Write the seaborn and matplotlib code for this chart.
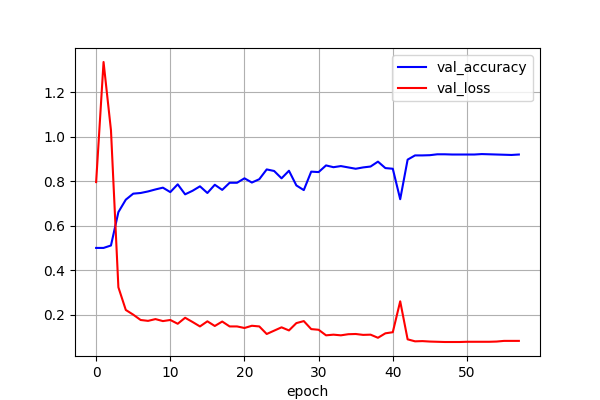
import seaborn as sns
import matplotlib.pyplot as plt
import pandas as pd

# validation history
epochs = list(range(58))
val_accuracy = [0.500, 0.500, 0.511, 0.661, 0.717, 0.744, 0.747, 0.754, 0.763, 0.771,
                0.751, 0.786, 0.741, 0.757, 0.777, 0.747, 0.784, 0.761, 0.793, 0.793,
                0.813, 0.794, 0.809, 0.853, 0.846, 0.813, 0.847, 0.781, 0.760, 0.843,
                0.841, 0.871, 0.863, 0.868, 0.862, 0.856, 0.862, 0.866, 0.888, 0.859,
                0.856, 0.719, 0.897, 0.916, 0.916, 0.917, 0.921, 0.921, 0.920, 0.920,
                0.920, 0.920, 0.922, 0.921, 0.920, 0.919, 0.918, 0.920]
val_loss = [0.796, 1.336, 1.029, 0.323, 0.221, 0.200, 0.176, 0.172, 0.180, 0.171,
            0.176, 0.159, 0.186, 0.167, 0.147, 0.170, 0.149, 0.169, 0.147, 0.147,
            0.140, 0.150, 0.147, 0.113, 0.128, 0.143, 0.129, 0.162, 0.171, 0.135,
            0.132, 0.107, 0.110, 0.107, 0.112, 0.113, 0.109, 0.110, 0.096, 0.116,
            0.121, 0.260, 0.089, 0.080, 0.081, 0.079, 0.078, 0.077, 0.077, 0.077,
            0.078, 0.078, 0.078, 0.078, 0.079, 0.082, 0.082, 0.082]

df = pd.DataFrame({'epoch': epochs, 'val_accuracy': val_accuracy, 'val_loss': val_loss})

fig, ax = plt.subplots(figsize=(6, 4), dpi=100)
sns.lineplot(x='epoch', y='val_accuracy', data=df, color='b', label='val_accuracy', ax=ax)
sns.lineplot(x='epoch', y='val_loss', data=df, color='r', label='val_loss', ax=ax)
ax.set_xlabel('epoch')
ax.set_ylabel('')
ax.grid(True)
ax.legend(loc='upper right')
plt.savefig('out.png')
